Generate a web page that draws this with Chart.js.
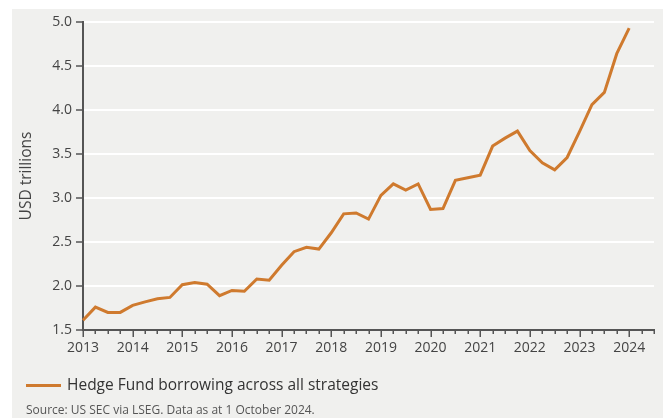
<!DOCTYPE html>
<html>
<head>
<meta charset="utf-8">
<title>Hedge Fund borrowing</title>
<script src="https://cdn.jsdelivr.net/npm/chart.js@4.4.1/dist/chart.umd.min.js"></script>
<style>
  html, body { margin: 0; padding: 0; background: #ffffff; }
  canvas { display: block; }
</style>
</head>
<body>
<canvas id="chart" width="664" height="418"></canvas>
<script>
// Quarterly periods on the x axis (the axis runs two quarters past the last reading)
const quarters = [
  '2013 Q1', '2013 Q2', '2013 Q3', '2013 Q4',
  '2014 Q1', '2014 Q2', '2014 Q3', '2014 Q4',
  '2015 Q1', '2015 Q2', '2015 Q3', '2015 Q4',
  '2016 Q1', '2016 Q2', '2016 Q3', '2016 Q4',
  '2017 Q1', '2017 Q2', '2017 Q3', '2017 Q4',
  '2018 Q1', '2018 Q2', '2018 Q3', '2018 Q4',
  '2019 Q1', '2019 Q2', '2019 Q3', '2019 Q4',
  '2020 Q1', '2020 Q2', '2020 Q3', '2020 Q4',
  '2021 Q1', '2021 Q2', '2021 Q3', '2021 Q4',
  '2022 Q1', '2022 Q2', '2022 Q3', '2022 Q4',
  '2023 Q1', '2023 Q2', '2023 Q3', '2023 Q4',
  '2024 Q1', '2024 Q2', '2024 Q3'
];

// Year labels shown under the first quarter of each year
const yearLabels = ['2013', '2014', '2015', '2016', '2017', '2018',
                    '2019', '2020', '2021', '2022', '2023', '2024'];

// Hedge fund borrowing, USD trillions, one value per quarter
const borrowing = [
  1.61, 1.76, 1.70, 1.70,
  1.78, 1.82, 1.855, 1.87,
  2.015, 2.04, 2.02, 1.89,
  1.95, 1.94, 2.08, 2.065,
  2.235, 2.39, 2.44, 2.42,
  2.605, 2.82, 2.83, 2.76,
  3.03, 3.16, 3.09, 3.16,
  2.87, 2.88, 3.20, 3.23,
  3.26, 3.59, 3.68, 3.76,
  3.54, 3.40, 3.32, 3.46,
  3.755, 4.06, 4.20, 4.64,
  4.93
];

// Value axis ticks
const yTicks = [1.5, 2.0, 2.5, 3.0, 3.5, 4.0, 4.5, 5.0];

const seriesLabel = 'Hedge Fund borrowing across all strategies';
const yAxisTitle = 'USD trillions';
const sourceNote = 'Source: US SEC via LSEG. Data as at 1 October 2024.';

const FONT = "'Open Sans', 'Noto Sans', sans-serif";
const LINE_COLOR = '#cf7a2e';
const AXIS_COLOR = '#555555';
const TEXT_COLOR = '#444444';
const PANEL_COLOR = '#f0f0ee';

function isYearStart(label) {
  return yearLabels.some(y => label === y + ' Q1');
}

// Grey panel behind the chart, quarterly tick marks, legend and source line
const decorations = {
  id: 'decorations',
  beforeDraw(chart) {
    const ctx = chart.ctx;
    ctx.save();
    ctx.fillStyle = '#ffffff';
    ctx.fillRect(0, 0, chart.width, chart.height);
    ctx.fillStyle = PANEL_COLOR;
    ctx.fillRect(12, 9, chart.width - 13, chart.height - 9);
    ctx.restore();
  },
  afterDraw(chart) {
    const ctx = chart.ctx;
    const xs = chart.scales.x;
    const bottom = chart.chartArea.bottom;
    ctx.save();
    // quarterly tick marks, longer at each year start
    ctx.strokeStyle = AXIS_COLOR;
    ctx.lineWidth = 1.5;
    quarters.forEach((q, i) => {
      const x = Math.round(xs.getPixelForTick(i)) + 0.25;
      const len = isYearStart(q) ? 7 : 4;
      ctx.beginPath();
      ctx.moveTo(x, bottom);
      ctx.lineTo(x, bottom + len);
      ctx.stroke();
    });
    // legend entry
    const ds = chart.data.datasets[0];
    ctx.strokeStyle = ds.borderColor;
    ctx.lineWidth = 3;
    ctx.beginPath();
    ctx.moveTo(26, 385.5);
    ctx.lineTo(61, 385.5);
    ctx.stroke();
    ctx.fillStyle = '#333333';
    ctx.font = '15.5px ' + FONT;
    ctx.textBaseline = 'middle';
    ctx.textAlign = 'left';
    ctx.fillText(ds.label, 67, 386);
    // source line
    ctx.fillStyle = '#555555';
    ctx.font = '12px ' + FONT;
    ctx.fillText(sourceNote, 26, 411);
    ctx.restore();
  }
};

new Chart(document.getElementById('chart'), {
  type: 'line',
  data: {
    labels: quarters,
    datasets: [{
      label: seriesLabel,
      data: borrowing,
      borderColor: LINE_COLOR,
      backgroundColor: LINE_COLOR,
      borderWidth: 3,
      pointRadius: 0,
      tension: 0,
      fill: false
    }]
  },
  options: {
    responsive: false,
    animation: false,
    devicePixelRatio: 1,
    layout: { padding: { top: 22, right: 9, bottom: 0, left: 0 } },
    plugins: {
      legend: { display: false },
      tooltip: { enabled: false }
    },
    scales: {
      x: {
        type: 'category',
        offset: false,
        afterFit(scale) { scale.height = 88; },
        border: { display: true, color: AXIS_COLOR, width: 2 },
        grid: { drawOnChartArea: false, drawTicks: false },
        ticks: {
          autoSkip: false,
          maxRotation: 0,
          minRotation: 0,
          padding: 10,
          color: TEXT_COLOR,
          font: { family: FONT, size: 14 },
          callback(value, index) {
            const q = quarters[index];
            return isYearStart(q) ? q.slice(0, 4) : '';
          }
        }
      },
      y: {
        min: 1.5,
        max: 5.0,
        afterFit(scale) { scale.width = 83; },
        afterBuildTicks(scale) { scale.ticks = yTicks.map(v => ({ value: v })); },
        border: { display: true, color: AXIS_COLOR, width: 2 },
        grid: {
          color: ctx => (ctx.tick && ctx.tick.value === yTicks[0]) ? 'rgba(0,0,0,0)' : '#ffffff',
          lineWidth: 2,
          drawTicks: true,
          tickLength: 7,
          tickColor: AXIS_COLOR,
          tickWidth: 1.5
        },
        ticks: {
          padding: 4,
          color: TEXT_COLOR,
          font: { family: FONT, size: 14 },
          callback(value) { return Number(value).toFixed(1); }
        },
        title: {
          display: true,
          text: yAxisTitle,
          color: TEXT_COLOR,
          font: { family: FONT, size: 15.5 },
          padding: { top: 17.7, bottom: 0 }
        }
      }
    }
  },
  plugins: [decorations]
});
</script>
</body>
</html>
